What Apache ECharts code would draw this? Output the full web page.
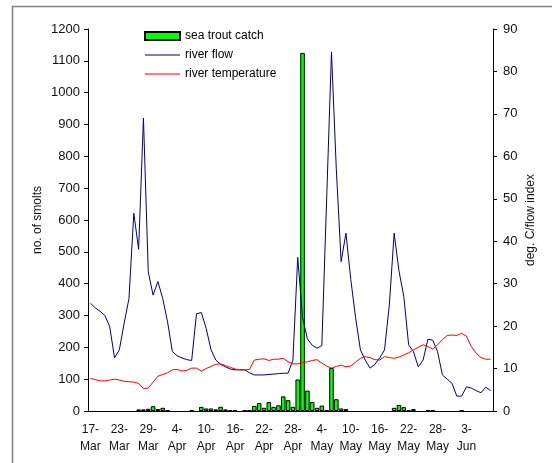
<!DOCTYPE html>
<html>
<head>
<meta charset="utf-8">
<script src="https://cdn.jsdelivr.net/npm/echarts@6/dist/echarts.min.js"></script>
<style>
  html, body { margin: 0; padding: 0; background: #fff; }
  #chart { width: 552px; height: 463px; }
</style>
</head>
<body>
<div id="chart"></div>
<script>
// days 17-Mar .. 8-Jun
var days = [
    '17-Mar','18-Mar','19-Mar','20-Mar','21-Mar','22-Mar','23-Mar','24-Mar','25-Mar','26-Mar',
    '27-Mar','28-Mar','29-Mar','30-Mar','31-Mar',
    '1-Apr','2-Apr','3-Apr','4-Apr','5-Apr','6-Apr','7-Apr','8-Apr','9-Apr','10-Apr',
    '11-Apr','12-Apr','13-Apr','14-Apr','15-Apr','16-Apr','17-Apr','18-Apr','19-Apr','20-Apr',
    '21-Apr','22-Apr','23-Apr','24-Apr','25-Apr','26-Apr','27-Apr','28-Apr','29-Apr','30-Apr',
    '1-May','2-May','3-May','4-May','5-May','6-May','7-May','8-May','9-May','10-May',
    '11-May','12-May','13-May','14-May','15-May','16-May','17-May','18-May','19-May','20-May',
    '21-May','22-May','23-May','24-May','25-May','26-May','27-May','28-May','29-May','30-May',
    '31-May','1-Jun','2-Jun','3-Jun','4-Jun','5-Jun','6-Jun','7-Jun','8-Jun'
];

// sea trout catch (no. of smolts), '-' = no catch
var catchSmolts = [
    '-','-','-','-','-','-','-','-','-','-',
    5, 5, 7, 15, 6, 10, 2, '-','-','-',
    '-', 3, '-', 13, 8, 8, 5, 13, 5, 2,
    2, '-', 2, 2, 16, 25, 10, 28, 13, 18,
    46, 34, 13, 99, 1125, 64, 28, 10, 17, 2,
    135, 37, 8, 6, '-','-','-','-','-','-',
    '-','-','-', 10, 19, 12, 3, 6, '-','-',
    2, 2, '-','-','-','-','-', 2, '-','-',
    '-','-','-','-'
];

// river flow index
var riverFlow = [
    25.4, 24.3, 23.5, 22.5, 19.9, 12.5, 14.4, 20.7, 26.5, 46.6,
    38.1, 69.0, 32.8, 27.3, 30.5, 26.5, 21.0, 14.0, 13.0, 12.5,
    12.1, 11.9, 22.9, 23.2, 19.5, 14.5, 12.0, 11.0, 10.4, 9.9,
    9.7, 9.7, 9.7, 9.0, 8.5, 8.5, 8.5, 8.6, 8.7, 8.8,
    8.9, 8.9, 12.0, 36.2, 22.0, 17.0, 15.5, 14.8, 15.4, 50.0,
    84.6, 57.0, 35.2, 41.9, 31.0, 22.0, 14.4, 12.0, 10.1, 11.0,
    12.5, 14.4, 25.0, 41.9, 33.0, 27.0, 15.6, 14.0, 10.4, 12.0,
    16.9, 16.7, 14.0, 8.5, 7.5, 6.5, 3.5, 3.5, 5.7, 5.4,
    4.8, 4.3, 5.6, 4.8
];

// river temperature, deg. C
var riverTemp = [
    7.7, 7.4, 7.1, 7.1, 7.3, 7.5, 7.3, 7.0, 6.9, 6.8,
    6.5, 5.3, 5.4, 6.8, 8.2, 8.6, 9.0, 9.7, 9.8, 9.4,
    9.6, 10.1, 10.1, 9.4, 10.0, 10.5, 11.0, 11.1, 10.7, 10.3,
    9.9, 9.7, 9.7, 9.8, 12.0, 12.2, 12.3, 11.9, 12.2, 12.2,
    12.4, 11.6, 11.1, 11.1, 11.4, 11.6, 11.9, 12.1, 11.3, 10.6,
    10.1, 10.5, 10.8, 10.4, 10.6, 11.5, 12.4, 12.8, 12.6, 12.1,
    12.0, 12.8, 12.6, 12.4, 12.7, 13.2, 13.7, 14.4, 15.0, 15.6,
    15.2, 14.6, 15.6, 16.8, 17.8, 17.9, 17.8, 18.3, 17.6, 15.2,
    13.6, 12.6, 12.2, 12.2
];

var textFont = 'Liberation Sans, Arial, sans-serif';
// thin bar used as legend icon for the two lines
var lineIcon = 'path://M0,0H35V1.2H0Z';

var myChart = echarts.init(document.getElementById('chart'));
myChart.setOption({
    animation: false,
    backgroundColor: '#fff',
    textStyle: { fontFamily: textFont },
    graphic: [{
        type: 'rect',
        shape: { x: 12.5, y: 6.5, width: 700, height: 700 },
        style: { fill: 'none', stroke: '#808080', lineWidth: 1.5 },
        silent: true
    }],
    grid: { left: 88, right: 59, top: 29, bottom: 52 },
    legend: {
        orient: 'vertical',
        left: 144,
        top: 30,
        padding: 0,
        itemWidth: 35,
        itemHeight: 8,
        itemGap: 7,
        textStyle: { fontSize: 12, color: '#000', fontFamily: textFont },
        data: [
            { name: 'sea trout catch', icon: 'rect' },
            { name: 'river flow', icon: lineIcon },
            { name: 'river temperature', icon: lineIcon }
        ]
    },
    xAxis: {
        type: 'category',
        data: days,
        boundaryGap: true,
        axisLine: { lineStyle: { color: '#000', width: 1 } },
        axisTick: { interval: 0, length: 4, lineStyle: { color: '#000' } },
        axisLabel: {
            interval: 5,
            margin: 10,
            fontSize: 12,
            lineHeight: 17,
            color: '#111',
            formatter: function (v) { return v.replace('-', '-\n'); }
        },
        splitLine: { show: false }
    },
    yAxis: [
        {
            type: 'value',
            min: 0,
            max: 1200,
            interval: 100,
            name: 'no. of smolts',
            nameLocation: 'middle',
            nameGap: 44,
            nameMoveOverlap: false,
            nameTextStyle: { fontSize: 12, color: '#111' },
            axisLine: { show: true, lineStyle: { color: '#000' } },
            axisTick: { show: true, length: 4, lineStyle: { color: '#000' } },
            axisLabel: {
                fontSize: 13,
                color: '#111',
                margin: 8,
                formatter: function (v) { return String(v); }
            },
            splitLine: { show: false }
        },
        {
            type: 'value',
            min: 0,
            max: 90,
            interval: 10,
            name: 'deg. C/flow index',
            nameLocation: 'middle',
            nameGap: 32,
            nameMoveOverlap: false,
            nameTextStyle: { fontSize: 12, color: '#111' },
            axisLine: { show: true, lineStyle: { color: '#000' } },
            axisTick: { show: true, length: 4, lineStyle: { color: '#000' } },
            axisLabel: { fontSize: 13, color: '#111', margin: 10 },
            splitLine: { show: false }
        }
    ],
    series: [
        {
            name: 'sea trout catch',
            type: 'bar',
            yAxisIndex: 0,
            barCategoryGap: '5%',
            itemStyle: { color: '#00ff00', borderColor: '#000', borderWidth: 1 },
            data: catchSmolts
        },
        {
            name: 'river flow',
            type: 'line',
            yAxisIndex: 1,
            symbol: 'none',
            lineStyle: { color: '#000080', width: 1 },
            itemStyle: { color: '#000080' },
            data: riverFlow
        },
        {
            name: 'river temperature',
            type: 'line',
            yAxisIndex: 1,
            symbol: 'none',
            lineStyle: { color: '#ff0000', width: 1 },
            itemStyle: { color: '#ff0000' },
            data: riverTemp
        }
    ]
});
</script>
</body>
</html>
